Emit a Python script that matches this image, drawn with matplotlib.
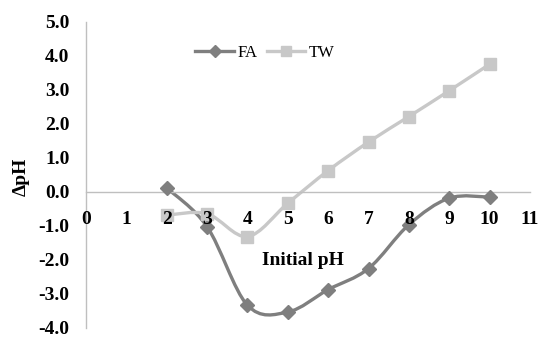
import numpy as np
import matplotlib
matplotlib.use('Agg')
import matplotlib.pyplot as plt
from matplotlib.path import Path
from matplotlib.patches import PathPatch

# data
initial_ph = [2, 3, 4, 5, 6, 7, 8, 9, 10]
fa = [0.12, -1.02, -3.33, -3.53, -2.87, -2.25, -0.96, -0.18, -0.15]
tw = [-0.68, -0.64, -1.31, -0.33, 0.63, 1.47, 2.22, 2.98, 3.76]
x_ticks = list(range(0, 12))
y_ticks = [-4.0, -3.0, -2.0, -1.0, 0.0, 1.0, 2.0, 3.0, 4.0, 5.0]

plt.rcParams['font.family'] = ['Liberation Serif', 'DejaVu Serif']

fa_color = '#7f7f7f'
tw_color = '#c8c8c8'


def smooth_path(xs, ys):
    # Excel-like smoothed line (Catmull-Rom as cubic Bezier)
    p = np.column_stack([xs, ys]).astype(float)
    pts = np.vstack([p[0], p, p[-1]])
    verts = [p[0]]
    codes = [Path.MOVETO]
    for i in range(1, len(pts) - 2):
        c1 = pts[i] + (pts[i + 1] - pts[i - 1]) / 6
        c2 = pts[i + 1] - (pts[i + 2] - pts[i]) / 6
        verts += [c1, c2, pts[i + 1]]
        codes += [Path.CURVE4] * 3
    return Path(verts, codes)


fig = plt.figure(figsize=(5.38, 3.41), dpi=100)
ax = fig.add_axes([86 / 538, 13 / 341, 444 / 538, 306 / 341])

for ys, col, mk, ms, lab in [(fa, fa_color, 'D', 7.5, 'FA'), (tw, tw_color, 's', 9, 'TW')]:
    ax.add_patch(PathPatch(smooth_path(initial_ph, ys), fill=False, edgecolor=col, lw=2.4, zorder=2))
    ax.plot(initial_ph, ys, ls='none', marker=mk, ms=ms, color=col, zorder=3)
    # legend proxy
    ax.plot([], [], color=col, lw=2.4, marker=mk, ms=ms - 1.5, label=lab)

# spines first: moving a spine resets the tick styling
for s in ['top', 'right']:
    ax.spines[s].set_visible(False)
ax.spines['bottom'].set_position(('data', 0))
ax.spines['bottom'].set_color('#bfbfbf')
ax.spines['left'].set_color('#bfbfbf')
ax.spines['bottom'].set_linewidth(1.0)
ax.spines['left'].set_linewidth(1.0)

ax.set_xlim(0, 11)
ax.set_ylim(-4, 5)
ax.set_xticks(x_ticks)
ax.set_yticks(y_ticks)
ax.set_xticklabels([str(v) for v in x_ticks], fontsize=14, fontweight='bold')
ax.set_yticklabels([f'{v:.1f}' for v in y_ticks], fontsize=14, fontweight='bold')
ax.tick_params(axis='x', length=0, pad=13.5)
ax.tick_params(axis='y', length=0, pad=12)
# x tick labels sit on top of the markers, as in the original
ax.xaxis.set_zorder(4)

ax.set_xlabel('Initial pH', fontsize=14, fontweight='bold')
ax.xaxis.set_label_coords((303 - 86) / 444, (341 - 252 - 13) / 306)
fig.text(21 / 538, 1 - 177 / 341, '\u0394pH', fontsize=14, fontweight='bold',
         rotation=90, ha='center', va='center')

ax.legend(loc='center', bbox_to_anchor=((265 - 86) / 444, (341 - 53 - 13) / 306),
          ncol=2, frameon=False, fontsize=12, handlelength=2.3,
          handletextpad=0.2, columnspacing=0.6)

fig.savefig('out.png', dpi=100)
